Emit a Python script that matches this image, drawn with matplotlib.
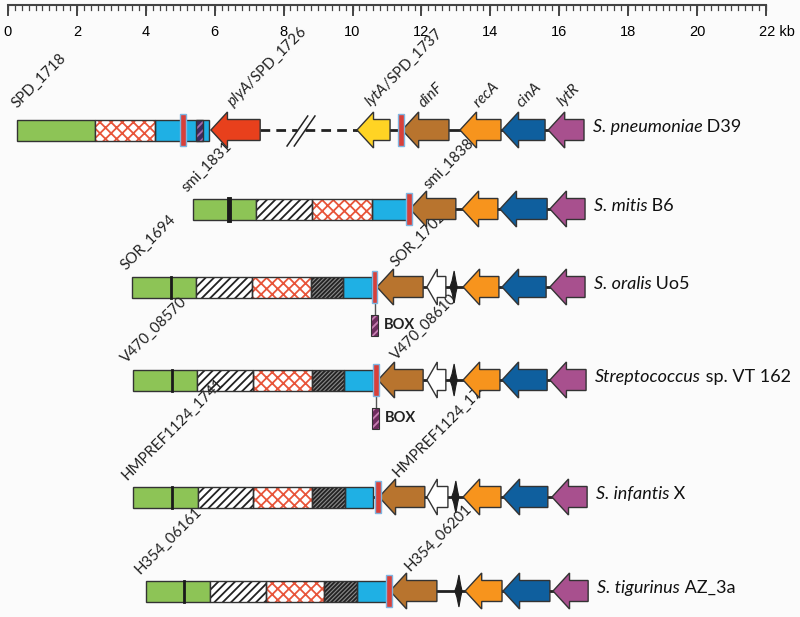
import numpy as np
import matplotlib.pyplot as plt
from matplotlib.patches import Rectangle, Polygon

plt.rcParams['mathtext.fontset'] = 'custom'
plt.rcParams['mathtext.rm'] = 'Lato'
plt.rcParams['mathtext.it'] = 'Lato:italic'
plt.rcParams['mathtext.bf'] = 'Lato:bold'
plt.rcParams['hatch.linewidth'] = 1.3

# ruler (kb)
ruler_major = [0, 2, 4, 6, 8, 10, 12, 14, 16, 18, 20, 22]
ruler_labels = ['0', '2', '4', '6', '8', '10', '12', '14', '16', '18', '20', '22 kb']
ruler_minor_step = 0.2

# one entry per strain (top to bottom)
sp_italic = ['S. pneumoniae', 'S. mitis', 'S. oralis', 'Streptococcus', 'S. infantis', 'S. tigurinus']
sp_strain = [' D39', ' B6', ' Uo5', ' sp. VT 162', ' X', ' AZ_3a']
left_tags = ['SPD_1718', 'smi_1831', 'SOR_1694', 'V470_08570', 'HMPREF1124_1741', 'H354_06161']
right_tags = [r'$\mathit{plyA}$/SPD_1726', 'smi_1838', 'SOR_1702', 'V470_08610',
              'HMPREF1124_1746', 'H354_06201']

# cassette blocks (kb)
green_start = [0.26, 5.37, 3.60, 3.63, 3.63, 4.01]
green_end = [2.53, 7.20, 5.46, 5.49, 5.52, 5.86]
green_mark = [None, 6.41, 4.73, 4.76, 4.76, 5.11]
stripe_end = [None, 8.82, 7.08, 7.11, 7.11, 7.49]
cross_end = [4.27, 10.57, 8.80, 8.82, 8.82, 9.17]
dense_end = [None, None, 9.72, 9.75, 9.78, 10.13]
cyan_end = [5.83, 11.58, 10.57, 10.60, 10.60, 11.00]
bar_pos = [5.08, 11.64, 10.65, 10.68, 10.74, 11.06]
has_box = [False, False, True, True, False, False]

# genes: (tip, end) in kb, arrows point left
dinF = [(11.44, 12.80), (11.67, 13.00), (10.71, 12.05), (10.74, 12.05), (10.77, 12.10), (11.09, 12.45)]
white_orf = [None, None, (12.16, 12.71), (12.16, 12.71), (12.16, 12.77), None]
lens_pos = [None, None, 12.95, 12.95, 13.00, 13.09]
recA = [(13.12, 14.31), (13.18, 14.22), (13.21, 14.25), (13.21, 14.28), (13.21, 14.31), (13.27, 14.34)]
cinA = [(14.34, 15.59), (14.28, 15.65), (14.34, 15.62), (14.34, 15.65), (14.37, 15.67), (14.37, 15.73)]
lytR = [(15.68, 16.72), (15.73, 16.75), (15.73, 16.75), (15.73, 16.78), (15.79, 16.81), (15.82, 16.84)]

# D39 only
plyA = (5.89, 7.32)
lytA = (10.13, 11.09)
d39_box = (5.46, 5.66)
d39_bar2 = 11.41
break_marks = (8.40, 8.61)

row_y = [130, 209, 287, 380, 497, 591]

C_GREEN = '#8dc456'
C_CYAN = '#1fb0e4'
C_RED = '#e8553a'
C_BAR = '#d8403a'
C_BAR_EDGE = '#7fb4e0'
C_PURPLE_BOX = '#6e2c5e'
colors = {'plyA': '#e8401c', 'lytA': '#ffd424', 'dinF': '#b8742e', 'recA': '#f7941d',
          'cinA': '#0f5f9e', 'lytR': '#a8508e', 'white': 'white'}

fig = plt.figure(figsize=(8, 6.17), dpi=100)
fig.patch.set_facecolor('#fbfbfb')
ax = fig.add_axes([0, 0, 1, 1])
ax.set_facecolor('#fbfbfb')
ax.set_xlim(-8 / 34.45, 792 / 34.45)
ax.set_ylim(617, 0)
ax.axis('off')

EDGE = '#333333'
BODY = 10.5
HEAD = 18
font = 'Lato'


def block(x0, x1, y, face, hatch=None, hcol=None, z=3):
    if hatch:
        ax.add_patch(Rectangle((x0, y - BODY), x1 - x0, 2 * BODY, facecolor=face,
                               edgecolor=hcol, hatch=hatch, lw=0, zorder=z))
        ax.add_patch(Rectangle((x0, y - BODY), x1 - x0, 2 * BODY, facecolor='none',
                               edgecolor=EDGE, lw=1, zorder=z + 0.1))
    else:
        ax.add_patch(Rectangle((x0, y - BODY), x1 - x0, 2 * BODY, facecolor=face,
                               edgecolor=EDGE, lw=1, zorder=z))


def arrow(tip, end, y, color, head=0.48):
    hb = tip + head
    pts = [(tip, y), (hb, y - HEAD), (hb, y - BODY), (end, y - BODY),
           (end, y + BODY), (hb, y + BODY), (hb, y + HEAD)]
    ax.add_patch(Polygon(pts, closed=True, facecolor=color, edgecolor=EDGE, lw=1, zorder=4))


def bar(x, y):
    ax.add_patch(Rectangle((x - 0.075, y - 16), 0.15, 32, facecolor=C_BAR,
                           edgecolor=C_BAR_EDGE, lw=1, zorder=6))


def lens(x, y):
    pts = [(x - 0.12, y), (x - 0.06, y - 6), (x, y - 16), (x + 0.05, y - 6), (x + 0.09, y),
           (x + 0.05, y + 6), (x, y + 16), (x - 0.06, y + 6)]
    ax.add_patch(Polygon(pts, closed=True, facecolor='#1e1e1e', edgecolor='#1e1e1e', lw=0.8, zorder=5))


def tag(x, y, s):
    ax.text(x, y, s, rotation=45, rotation_mode='anchor', ha='left', va='bottom',
            fontsize=10.8, family=font, color='#222222')


# ruler
ax.plot([ruler_major[0], ruler_major[-1]], [5, 5], color='#444444', lw=1.5)
for t in np.arange(ruler_major[0], ruler_major[-1] + 1e-6, ruler_minor_step):
    ax.plot([t, t], [5, 10], color='#444444', lw=0.9)
for t, lab in zip(ruler_major, ruler_labels):
    ax.plot([t, t], [5, 15], color='#444444', lw=1.4)
    if lab.endswith('kb'):
        ax.text(t - 0.2, 32, lab, ha='left', va='center', fontsize=10.5, family='Liberation Sans')
    else:
        ax.text(t, 32, lab, ha='center', va='center', fontsize=10.5, family='Liberation Sans')

for i, y in enumerate(row_y):
    # backbone line
    line_start = lytA[0] if i == 0 else cyan_end[i]
    ax.plot([line_start, lytR[i][1] - 0.1], [y, y], color='#222222', lw=2, zorder=1)

    block(green_start[i], green_end[i], y, C_GREEN)
    if green_mark[i] is not None:
        ax.plot([green_mark[i], green_mark[i]], [y - BODY, y + BODY], color='#1a1a1a',
                lw=3.5 if i == 1 else 2, zorder=3.5)
    x0 = green_end[i]
    if stripe_end[i] is not None:
        block(x0, stripe_end[i], y, 'white', '////', '#222222')
        x0 = stripe_end[i]
    block(x0, cross_end[i], y, 'white', 'xxx', C_RED)
    x0 = cross_end[i]
    if dense_end[i] is not None:
        block(x0, dense_end[i], y, '#8a8a8a', '////////', '#222222')
        x0 = dense_end[i]
    block(x0, cyan_end[i], y, C_CYAN)
    bar(bar_pos[i], y)

    if has_box[i]:
        ax.plot([bar_pos[i], bar_pos[i]], [y + 16, y + 28], color='#555555', lw=1, zorder=2)
        ax.add_patch(Rectangle((bar_pos[i] - 0.1, y + 28), 0.2, 21, facecolor=C_PURPLE_BOX,
                               edgecolor='#c77fb2', hatch='////', lw=0, zorder=3))
        ax.add_patch(Rectangle((bar_pos[i] - 0.1, y + 28), 0.2, 21, facecolor='none',
                               edgecolor='#333333', lw=0.8, zorder=3.1))
        ax.text(bar_pos[i] + 0.25, y + 38, 'BOX', ha='left', va='center', fontsize=10.5,
                family=font, weight='bold', color='#222222')

    arrow(*dinF[i], y, colors['dinF'])
    if white_orf[i] is not None:
        arrow(*white_orf[i], y, colors['white'], head=0.3)
    if lens_pos[i] is not None:
        lens(lens_pos[i], y)
    arrow(*recA[i], y, colors['recA'])
    arrow(*cinA[i], y, colors['cinA'])
    arrow(*lytR[i], y, colors['lytR'])

    t = ax.text(lytR[i][1] + 0.25, y - 3, sp_italic[i], ha='left', va='center',
                fontsize=13, family=font, style='italic', color='#111111')
    ax.annotate(sp_strain[i], xy=(1, 0), xycoords=t, ha='left', va='bottom',
                fontsize=13, family=font, color='#111111')

    if i == 0:
        tag(green_start[i] + 0.05, y - 19, left_tags[i])
        tag((plyA[0] + plyA[1]) / 2, y - 19, right_tags[i])
    else:
        tag(green_start[i] - 0.12, y - 14, left_tags[i])
        tag((dinF[i][0] + dinF[i][1]) / 2 - 0.05, y - 17, right_tags[i])

# D39 extras
y = row_y[0]
ax.add_patch(Rectangle((d39_box[0], y - BODY), d39_box[1] - d39_box[0], 2 * BODY,
                       facecolor='#3b2a5e', edgecolor='#a36aa8', hatch='////', lw=0, zorder=4))
ax.add_patch(Rectangle((d39_box[0], y - BODY), d39_box[1] - d39_box[0], 2 * BODY,
                       facecolor='none', edgecolor=EDGE, lw=1, zorder=4.1))
arrow(*plyA, y, colors['plyA'])
arrow(*lytA, y, colors['lytA'])
bar(d39_bar2, y)
ax.plot([plyA[1], break_marks[0]], [y, y], color='#222222', lw=2, ls=(0, (3.5, 2.2)), zorder=1)
ax.plot([break_marks[1], lytA[0]], [y, y], color='#222222', lw=2, ls=(0, (3.5, 2.2)), zorder=1)
for bx in break_marks:
    ax.plot([bx - 0.3, bx + 0.3], [y + 16, y - 14], color='#222222', lw=1.1, zorder=2)
tag((lytA[0] + lytA[1]) / 2, y - 19, r'$\mathit{lytA}$/SPD_1737')
for name, g in [('dinF', dinF[0]), ('recA', recA[0]), ('cinA', cinA[0]), ('lytR', lytR[0])]:
    tag((g[0] + g[1]) / 2, y - 19, r'$\mathit{' + name + '}$')

fig.savefig('out.png', dpi=100, facecolor=fig.get_facecolor())
